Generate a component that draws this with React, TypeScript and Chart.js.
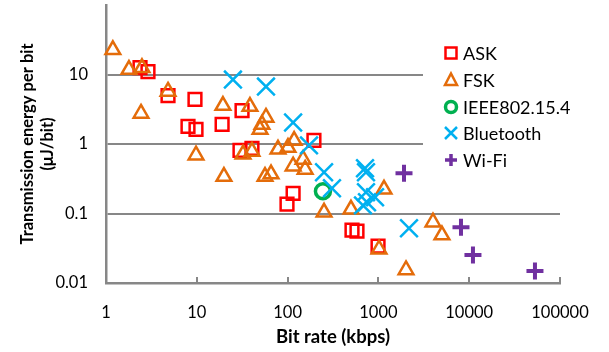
import React, { useEffect, useRef } from 'react';
import { Chart, registerables } from 'chart.js';

Chart.register(...registerables);

// ---- data ----
const xTickValues = [1, 10, 100, 1000, 10000, 100000];
const yTickValues = [0.01, 0.1, 1, 10];

const seriesNames = ['ASK', 'FSK', 'IEEE802.15.4', 'Bluetooth', 'Wi-Fi'];

const askRate = [2.37, 2.9, 4.82, 9.55, 8.0, 9.8, 19.0, 31.5, 195, 29.9, 40.5, 115, 98.5, 512, 581, 991];
const askEnergy = [12.6, 11.0, 4.98, 4.37, 1.79, 1.62, 1.91, 3.03, 1.13, 0.81, 0.865, 0.195, 0.136, 0.0575, 0.0557, 0.034];

const fskRate = [1.19, 1.79, 2.49, 4.82, 2.43, 19.4, 38.5, 57.8, 52.2, 49.7, 118, 101, 78.4, 40.5, 32.3, 9.8, 19.9, 56.4, 65.7, 115, 156, 148, 252, 499, 1153, 3990, 5010, 2014, 1016];
const fskEnergy = [22.7, 11.8, 12.5, 5.7, 2.75, 3.58, 3.46, 2.41, 1.91, 1.62, 1.12, 0.89, 0.84, 0.78, 0.71, 0.69, 0.34, 0.34, 0.37, 0.48, 0.43, 0.6, 0.104, 0.115, 0.223, 0.075, 0.049, 0.0154, 0.0307];

const ieeeRate = [245];
const ieeeEnergy = [0.209];

const btRate = [25.0, 57.8, 115, 172, 252, 308, 712, 730, 730, 918, 749, 677, 2173];
const btEnergy = [8.45, 6.7, 2.04, 0.955, 0.392, 0.231, 0.447, 0.392, 0.202, 0.171, 0.145, 0.131, 0.0615];

const wifiRate = [1914, 8120, 11000, 53000];
const wifiEnergy = [0.378, 0.0635, 0.0252, 0.0149];

// ---- styles ----
const FONT = 'Lato, "Open Sans", sans-serif';
const GRAY = '#878787';
const RED = '#FF0000';
const ORANGE = '#E46C0A';
const GREEN = '#00B050';
const BLUE = '#00B0F0';
const PURPLE = '#7030A0';

const toPoints = (xs: number[], ys: number[]) => xs.map((x, i) => ({ x, y: ys[i] }));

const innerTicksPlugin = {
  id: 'innerTicks',
  beforeDatasetsDraw(chart: any) {
    const { ctx, scales, chartArea } = chart;
    const xs = scales.x;
    ctx.save();
    ctx.strokeStyle = GRAY;
    ctx.lineWidth = 2;
    xTickValues.forEach((v) => {
      const px = Math.round(xs.getPixelForValue(v));
      ctx.beginPath();
      ctx.moveTo(px, chartArea.bottom);
      ctx.lineTo(px, chartArea.bottom - 6);
      ctx.stroke();
    });
    ctx.restore();
  },
};

function drawMarker(ctx: CanvasRenderingContext2D, kind: string, cx: number, cy: number, color: string) {
  ctx.save();
  ctx.strokeStyle = color;
  ctx.beginPath();
  if (kind === 'rect') {
    ctx.lineWidth = 2.5;
    ctx.rect(cx - 5.5, cy - 5.5, 11, 11);
  } else if (kind === 'triangle') {
    ctx.lineWidth = 2.5;
    ctx.moveTo(cx, cy - 6.5);
    ctx.lineTo(cx + 6, cy + 5);
    ctx.lineTo(cx - 6, cy + 5);
    ctx.closePath();
  } else if (kind === 'circle') {
    ctx.lineWidth = 3.5;
    ctx.arc(cx, cy, 5.5, 0, Math.PI * 2);
  } else if (kind === 'crossRot') {
    ctx.lineWidth = 2.5;
    ctx.moveTo(cx - 6, cy - 6);
    ctx.lineTo(cx + 6, cy + 6);
    ctx.moveTo(cx + 6, cy - 6);
    ctx.lineTo(cx - 6, cy + 6);
  } else {
    ctx.lineWidth = 3.5;
    ctx.moveTo(cx - 6, cy);
    ctx.lineTo(cx + 6, cy);
    ctx.moveTo(cx, cy - 6);
    ctx.lineTo(cx, cy + 6);
  }
  ctx.stroke();
  ctx.restore();
}

const legendPlugin = {
  id: 'insideLegend',
  afterDatasetsDraw(chart: any) {
    const { ctx, chartArea } = chart;
    const boxLeft = 423;
    const boxTop = 38;
    ctx.save();
    ctx.fillStyle = '#FFFFFF';
    ctx.fillRect(boxLeft, boxTop, chartArea.right + 3 - boxLeft, 148);
    ctx.font = `18px ${FONT}`;
    ctx.fillStyle = '#000000';
    ctx.textBaseline = 'middle';
    ctx.textAlign = 'left';
    const rowY = [53, 80, 107, 133, 160];
    chart.data.datasets.forEach((ds: any, i: number) => {
      drawMarker(ctx, ds.pointStyle, 451, rowY[i], ds.borderColor);
      ctx.fillText(ds.label, 463, rowY[i] + 1);
    });
    ctx.restore();
  },
};

export default function App() {
  const ref = useRef<HTMLCanvasElement | null>(null);

  useEffect(() => {
    if (!ref.current) return;
    const common = { backgroundColor: 'rgba(0,0,0,0)', clip: false as any, showLine: false };
    const chart = new Chart(ref.current, {
      type: 'scatter',
      data: {
        datasets: [
          { ...common, label: seriesNames[0], data: toPoints(askRate, askEnergy), pointStyle: 'rect', pointRadius: 9, borderColor: RED, pointBorderWidth: 2.5, order: 5 },
          { ...common, label: seriesNames[1], data: toPoints(fskRate, fskEnergy), pointStyle: 'triangle', pointRadius: 8.5, borderColor: ORANGE, pointBorderWidth: 2.5, order: 4 },
          { ...common, label: seriesNames[2], data: toPoints(ieeeRate, ieeeEnergy), pointStyle: 'circle', pointRadius: 7.5, borderColor: GREEN, pointBorderWidth: 3.5, order: 3 },
          { ...common, label: seriesNames[3], data: toPoints(btRate, btEnergy), pointStyle: 'crossRot', pointRadius: 12.5, borderColor: BLUE, pointBorderWidth: 2.5, order: 2 },
          { ...common, label: seriesNames[4], data: toPoints(wifiRate, wifiEnergy), pointStyle: 'cross', pointRadius: 8.5, borderColor: PURPLE, pointBorderWidth: 4, order: 1 },
        ] as any,
      },
      options: {
        animation: false,
        responsive: false,
        devicePixelRatio: 1,
        layout: { autoPadding: false, padding: { left: 0, right: 49, top: 5, bottom: 0 } },
        plugins: {
          legend: { display: false },
          tooltip: { enabled: false },
        },
        scales: {
          x: {
            type: 'logarithmic',
            min: 1,
            max: 100000,
            afterBuildTicks: (scale: any) => {
              scale.ticks = xTickValues.map((v) => ({ value: v }));
            },
            afterFit: (scale: any) => {
              scale.height = 69;
              scale.paddingLeft = 0;
              scale.paddingRight = 0;
            },
            ticks: {
              callback: (v: any) => String(v),
              color: '#000000',
              font: { family: FONT, size: 16.5 },
              padding: 20,
              maxRotation: 0,
              autoSkip: false,
            },
            grid: { display: false, drawTicks: false },
            border: { display: true, color: GRAY, width: 2.5 },
            title: {
              display: true,
              text: 'Bit rate (kbps)',
              color: '#000000',
              font: { family: FONT, size: 18.5, weight: 'bold' },
              padding: { top: 0, bottom: 4 },
            },
          },
          y: {
            type: 'logarithmic',
            min: 0.01,
            max: 100,
            afterBuildTicks: (scale: any) => {
              scale.ticks = yTickValues.map((v) => ({ value: v }));
            },
            afterFit: (scale: any) => {
              scale.width = 106;
              scale.paddingTop = 0;
              scale.paddingBottom = 0;
            },
            ticks: {
              callback: (v: any) => String(v),
              color: '#000000',
              font: { family: FONT, size: 16.5 },
              padding: 18,
              autoSkip: false,
            },
            grid: { color: GRAY, lineWidth: 2, drawTicks: false },
            border: { display: true, color: GRAY, width: 2.5 },
            title: {
              display: true,
              text: ['Transmission energy per bit', '(\u03bcJ/bit)'],
              color: '#000000',
              font: { family: FONT, size: 16.5, weight: 'bold', lineHeight: 1.2 },
              padding: { top: 18, bottom: 0 },
            },
          },
        },
      } as any,
      plugins: [innerTicksPlugin, legendPlugin],
    });
    return () => chart.destroy();
  }, []);

  return (
    <div style={{ position: 'fixed', left: 0, top: 0, width: 609, height: 352, background: '#fff' }}>
      <canvas ref={ref} width={609} height={352} style={{ display: 'block' }} />
    </div>
  );
}
